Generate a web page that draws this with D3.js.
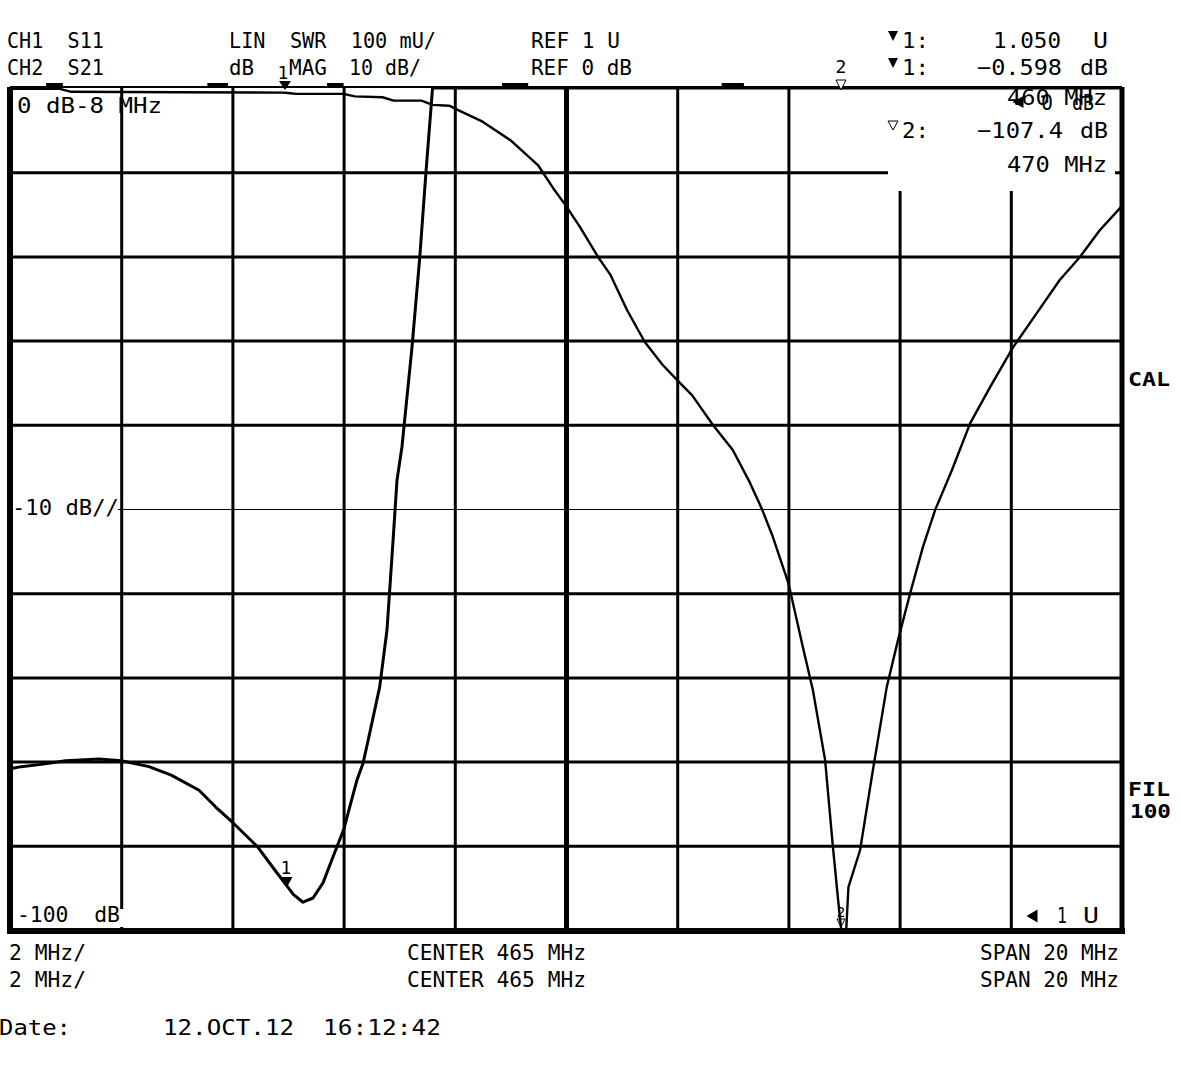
<!DOCTYPE html>
<html>
<head>
<meta charset="utf-8">
<script src="https://cdn.jsdelivr.net/npm/d3@7"></script>
<style>
  html, body { margin: 0; padding: 0; background: #fff; }
  svg { display: block; }
  text { font-family: "DejaVu Sans Mono", monospace; font-size: 22px; fill: #000; white-space: pre; }
  text.bold { font-weight: bold; font-size: 20px; }
  text.small { font-size: 18px; }
</style>
</head>
<body>
<svg id="chart" width="1181" height="1090"></svg>
<script>
// Sweep / scale settings
var centerMHz = 465, spanMHz = 20, divisions = 10;
var s21Ref = 0,  s21PerDiv = 10;     // CH2 S21 log mag, dB
var swrRef = 1,  swrPerDiv = 0.1;    // CH1 S11 lin SWR, U

// CH2 S21 (dB)
var s21Freq = [455.0, 455.9, 456.1, 458.0, 459.9, 460.0, 460.15, 461.0, 461.2, 461.7, 461.9, 462.4,
               462.6, 462.9, 463.05, 463.5, 464.0, 464.5, 464.77, 465.0, 465.25, 465.58, 465.8, 466.1,
               466.42, 466.74, 467.0, 467.27, 467.64, 468.0, 468.31, 468.53, 468.72, 469.0, 469.26,
               469.44, 469.66, 469.8, 469.9, 469.95, 470.0, 470.04, 470.08, 470.29, 470.52, 470.77,
               470.97, 471.19, 471.42, 471.64, 471.94, 472.27, 472.63, 473.04, 473.47, 473.88, 474.24,
               474.6, 474.96, 475.0];
var s21Db   = [-0.1, -0.1, -0.45, -0.5, -0.55, -0.6, -0.7, -0.7, -1.0, -1.1, -1.5, -1.5,
               -2.0, -2.1, -2.6, -4.0, -6.2, -9.2, -11.9, -14.0, -16.5, -20.1, -22.2, -26.4,
               -30.2, -32.9, -34.7, -36.5, -40.0, -43.0, -46.9, -50.1, -53.3, -58.8, -66.4,
               -71.5, -79.8, -90.1, -96.8, -104, -107.4, -104, -94.9, -90.5, -81.0, -71.1,
               -65.6, -60.0, -54.5, -50.1, -45.4, -39.8, -35.5, -30.8, -26.7, -22.8, -20.1,
               -16.9, -14.3, -14.0];

// CH1 S11 SWR (above 2.0 it runs off the top of the screen)
var swrFreq = [455.05, 455.2, 455.6, 456.0, 456.6, 457.0, 457.5, 457.9, 458.4, 458.7, 459.0, 459.45,
               459.8, 460.1, 460.27, 460.45, 460.63, 460.81, 461.0, 461.24, 461.35, 461.47, 461.65,
               461.78, 461.89, 461.96, 462.05, 462.23, 462.37, 462.48, 462.6, 462.8, 465.0, 470.0, 475.0];
var swrVal  = [1.192, 1.194, 1.197, 1.201, 1.203, 1.201, 1.194, 1.184, 1.166, 1.146, 1.128, 1.099,
               1.068, 1.042, 1.033, 1.038, 1.056, 1.087, 1.119, 1.178, 1.198, 1.234, 1.289,
               1.356, 1.463, 1.534, 1.574, 1.692, 1.799, 1.899, 2.001, 2.3, 4.0, 9.0, 5.0];

// Markers
var markerFreq = [460, 470];
var markerSwr  = [1.050];
var markerS21  = [-0.598, -107.4];

// short thick dashes sitting on the top edge of the graticule (MHz)
var topDashes = [[455.65, 455.95], [458.55, 458.92], [460.7, 461.0], [463.85, 464.32], [467.8, 468.2]];

var svg = d3.select("#chart");
var plotL = 10, plotR = 1122, plotT = 88, plotB = 930;

var x = d3.scaleLinear()
    .domain([centerMHz - spanMHz / 2, centerMHz + spanMHz / 2])
    .range([plotL, plotR]);
var yDb = d3.scaleLinear()
    .domain([s21Ref - divisions * s21PerDiv, s21Ref])
    .range([plotB, plotT]).clamp(true);
var ySwr = d3.scaleLinear()
    .domain([swrRef, swrRef + divisions * swrPerDiv])
    .range([plotB, plotT]).clamp(true);

// Graticule
var xTicks = d3.range(1, divisions).map(function(i) { return x.domain()[0] + i * spanMHz / divisions; });
var gx = svg.append("g")
    .attr("transform", "translate(0," + plotB + ")")
    .call(d3.axisBottom(x).tickValues(xTicks).tickSize(-(plotB - plotT)).tickFormat(""));
gx.select(".domain").remove();
gx.selectAll("line")
  .attr("stroke", "#000")
  .attr("stroke-width", function(d) { return d === centerMHz ? 5 : 3; });

var yTicks = d3.range(1, divisions).map(function(i) { return s21Ref - i * s21PerDiv; });
var gy = svg.append("g")
    .attr("transform", "translate(" + plotL + ",0)")
    .call(d3.axisLeft(yDb).tickValues(yTicks).tickSize(-(plotR - plotL)).tickFormat(""));
gy.select(".domain").remove();
gy.selectAll("line")
  .attr("stroke", "#000")
  .attr("stroke-width", function(d) { return d === -50 ? 1.2 : 3; })
  .attr("x1", function(d) { return d === -50 ? 108 : 0; });

// blank area behind the marker readout, and behind the -100 dB label
svg.append("rect").attr("x", 888).attr("y", 87).attr("width", 227).attr("height", 104).attr("fill", "#fff");
svg.append("rect").attr("x", 115).attr("y", 909).attr("width", 12).attr("height", 18).attr("fill", "#fff");

// border
var border = svg.append("g").attr("stroke", "#000");
border.append("line").attr("x1", plotL).attr("x2", plotL).attr("y1", plotT - 1).attr("y2", plotB + 4).attr("stroke-width", 6);
border.append("line").attr("x1", plotR).attr("x2", plotR).attr("y1", plotT - 1).attr("y2", plotB + 4).attr("stroke-width", 5);
border.append("line").attr("x1", plotL - 3).attr("x2", plotR + 3).attr("y1", plotB + 1).attr("y2", plotB + 1).attr("stroke-width", 6);
border.append("line").attr("x1", plotL).attr("x2", plotR).attr("y1", plotT - 1).attr("y2", plotT - 1).attr("stroke-width", 2);

svg.append("g").selectAll("line")
  .data(topDashes).enter().append("line")
  .attr("x1", function(d) { return x(d[0]); })
  .attr("x2", function(d) { return x(d[1]); })
  .attr("y1", plotT - 3).attr("y2", plotT - 3)
  .attr("stroke", "#000").attr("stroke-width", 4);

// Traces
var s21Line = d3.line()
    .x(function(d) { return x(d[0]); })
    .y(function(d) { return yDb(d[1]); });
var swrLine = d3.line()
    .x(function(d) { return x(d[0]); })
    .y(function(d) { return ySwr(d[1]); });

svg.append("path")
   .datum(d3.zip(s21Freq, s21Db))
   .attr("d", s21Line)
   .attr("fill", "none").attr("stroke", "#000").attr("stroke-width", 2.4)
   .attr("stroke-linejoin", "round");
svg.append("path")
   .datum(d3.zip(swrFreq, swrVal))
   .attr("d", swrLine)
   .attr("fill", "none").attr("stroke", "#000").attr("stroke-width", 3)
   .attr("stroke-linejoin", "round");

// triangle helper: dir "down" | "left"
function tri(cx, cy, w, h, dir) {
    if (dir === "left")
        return "M" + (cx - w / 2) + "," + cy + "L" + (cx + w / 2) + "," + (cy - h / 2) + "L" + (cx + w / 2) + "," + (cy + h / 2) + "Z";
    return "M" + (cx - w / 2) + "," + (cy - h) + "L" + (cx + w / 2) + "," + (cy - h) + "L" + cx + "," + cy + "Z";
}

var marks = svg.append("g");
// marker 1 on SWR trace
var m1x = x(markerFreq[0]), m1y = ySwr(markerSwr[0]);
marks.append("path").attr("d", tri(m1x - 1, m1y - 1, 11, 10)).attr("fill", "#000");
marks.append("text").attr("class", "small").attr("x", m1x - 2).attr("y", m1y - 14).attr("text-anchor", "middle").text("1");
// marker 1 on S21 trace (top edge)
marks.append("path").attr("d", tri(m1x - 3, plotT + 2, 12, 9)).attr("fill", "#000");
marks.append("text").attr("class", "small").attr("x", m1x - 5).attr("y", plotT - 9).attr("text-anchor", "middle").text("1");
// marker 2 on S21 (reads off-scale, shown at top and at bottom edge)
var m2x = x(markerFreq[1]);
marks.append("path").attr("d", tri(m2x - 3, plotT + 2, 10, 10)).attr("fill", "#fff").attr("stroke", "#000").attr("stroke-width", 1);
marks.append("text").attr("class", "small").attr("x", m2x - 3).attr("y", plotT - 15).attr("text-anchor", "middle").text("2");
marks.append("path").attr("d", tri(m2x - 3, yDb(markerS21[1]) - 3, 8, 8)).attr("fill", "none").attr("stroke", "#000").attr("stroke-width", 1);
marks.append("text").attr("x", m2x - 3).attr("y", yDb(markerS21[1]) - 13).attr("text-anchor", "middle")
     .style("font-size", "14px").text("2");

// readout triangles
marks.append("path").attr("d", tri(893, 41, 10, 10)).attr("fill", "#000");
marks.append("path").attr("d", tri(893, 68, 10, 10)).attr("fill", "#000");
marks.append("path").attr("d", tri(893, 130, 10, 9)).attr("fill", "none").attr("stroke", "#000").attr("stroke-width", 1);
marks.append("path").attr("d", tri(1018, 102, 11, 12, "left")).attr("fill", "#000");
marks.append("path").attr("d", tri(1032, 916, 11, 13, "left")).attr("fill", "#000");

// Screen text: [string, x start, x end, baseline, class]
var fmt = d3.format(".3f");
var screenText = [
  ["CH1  S11", 7, 104, 48],
  ["CH2  S21", 7, 104, 75],
  ["LIN  SWR  100 mU/", 229, 436, 48],
  ["dB", 229, 254, 75],
  ["MAG", 289, 327, 75],
  ["10 dB/", 349, 421, 75],
  ["REF " + swrRef + " U", 531, 620, 48],
  ["REF " + s21Ref + " dB", 531, 632, 75],
  ["1:", 902, 929, 48],
  [fmt(markerSwr[0]), 993, 1061, 48],
  ["U", 1093, 1108, 48],
  ["1:", 902, 929, 75],
  [fmt(markerS21[0]), 977, 1062, 75],
  ["dB", 1080, 1108, 75],
  [markerFreq[0] + " MHz", 1007, 1107, 105],
  ["0", 1041, 1053, 110],
  ["dB", 1072, 1094, 110],
  ["2:", 902, 929, 138],
  [d3.format(".1f")(markerS21[1]), 977, 1063, 138],
  ["dB", 1080, 1108, 138],
  [markerFreq[1] + " MHz", 1007, 1107, 172],
  ["0 dB-8 MHz", 17, 162, 113],
  ["-10 dB//", 12, 119, 515],
  ["-100  dB", 17, 120, 922],
  ["1", 1057, 1067, 923],
  ["U", 1083, 1099, 923],
  ["CAL", 1128, 1170, 386, "bold"],
  ["FIL", 1128, 1170, 796, "bold"],
  ["100", 1130, 1171, 818, "bold"],
  ["2 MHz/", 9, 86, 960],
  ["2 MHz/", 9, 86, 987],
  ["CENTER " + centerMHz + " MHz", 407, 586, 960],
  ["CENTER " + centerMHz + " MHz", 407, 586, 987],
  ["SPAN " + spanMHz + " MHz", 980, 1119, 960],
  ["SPAN " + spanMHz + " MHz", 980, 1119, 987],
  ["Date:", -1, 71, 1035],
  ["12.OCT.12", 163, 294, 1035],
  ["16:12:42", 323, 441, 1035]
];

svg.append("g").selectAll("text")
  .data(screenText).enter().append("text")
  .attr("class", function(d) { return d[4] || null; })
  .attr("x", function(d) { return d[1]; })
  .attr("y", function(d) { return d[3]; })
  .attr("textLength", function(d) { return d[2] - d[1]; })
  .attr("lengthAdjust", "spacingAndGlyphs")
  .text(function(d) { return d[0]; });
</script>
</body>
</html>
